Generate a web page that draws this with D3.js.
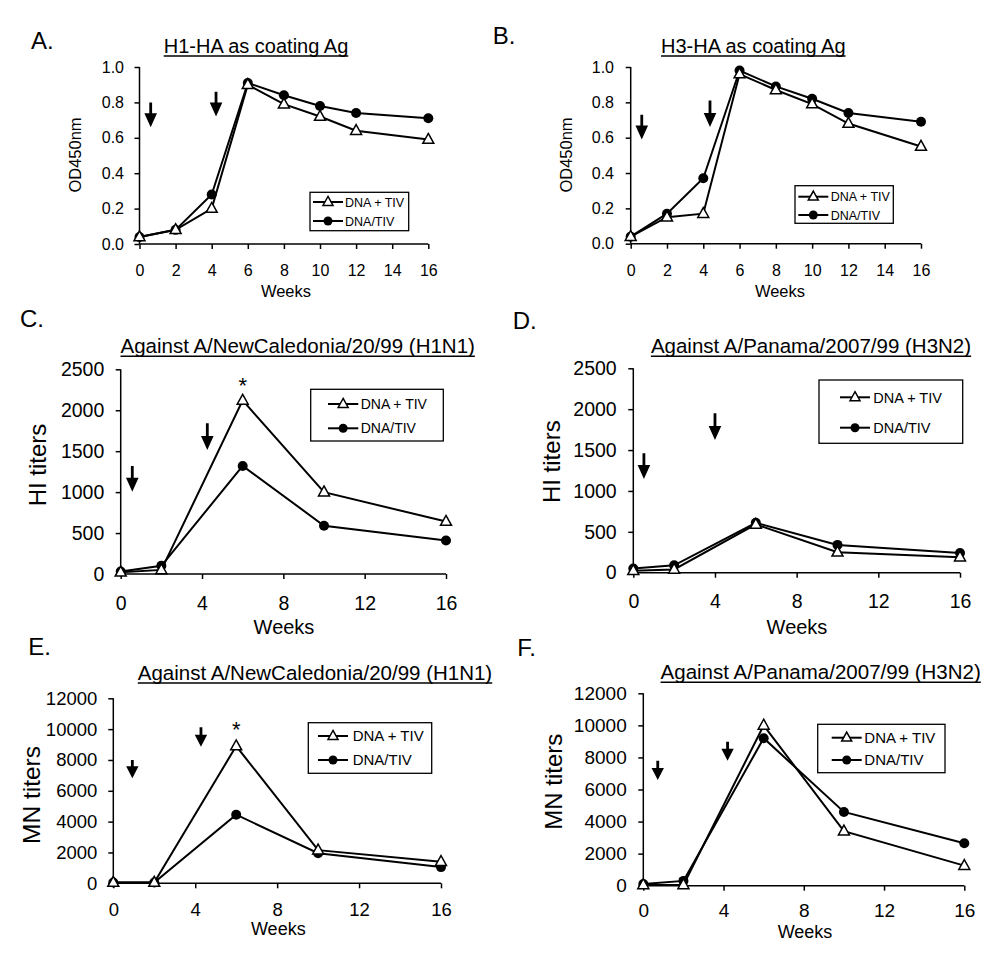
<!DOCTYPE html>
<html><head><meta charset="utf-8">
<script src="https://cdn.jsdelivr.net/npm/d3@7"></script>
<style>
body{margin:0;background:#fff}
svg{display:block}
text{font-family:"Liberation Sans",Arial,Helvetica,sans-serif;fill:#000}
</style>
</head><body>
<svg id="chart" width="1000" height="954"></svg>
<script>
// ---------- DATA ----------
const weeksElisa = [0, 2, 4, 6, 8, 10, 12, 16];
const weeksTiter = [0, 2, 6, 10, 16];
const seriesNames = ["DNA + TIV", "DNA/TIV"];

const odTicks = [0, 0.2, 0.4, 0.6, 0.8, 1.0];
const hiTicks = [0, 500, 1000, 1500, 2000, 2500];
const mnTicks = [0, 2000, 4000, 6000, 8000, 10000, 12000];
const weekTicksElisa = [0, 2, 4, 6, 8, 10, 12, 14, 16];
const weekTicksTiter = [0, 4, 8, 12, 16];

const panelLetters = ["A.", "B.", "C.", "D.", "E.", "F."];
const panelTitles = ["H1-HA as coating Ag", "H3-HA as coating Ag",
  "Against A/NewCaledonia/20/99 (H1N1)", "Against A/Panama/2007/99 (H3N2)",
  "Against A/NewCaledonia/20/99 (H1N1)", "Against A/Panama/2007/99 (H3N2)"];
const yAxisTitles = ["OD450nm", "OD450nm", "HI titers", "HI titers", "MN titers", "MN titers"];

// DNA + TIV (open triangles) and DNA/TIV (filled circles)
const A_combo = [0.04, 0.08, 0.20, 0.90, 0.79, 0.72, 0.64, 0.59];
const A_prime = [0.04, 0.08, 0.28, 0.91, 0.84, 0.78, 0.74, 0.71];
const B_combo = [0.04, 0.15, 0.17, 0.96, 0.87, 0.79, 0.68, 0.55];
const B_prime = [0.04, 0.17, 0.37, 0.98, 0.89, 0.82, 0.74, 0.69];
const C_combo = [20, 50, 2120, 1000, 640];
const C_prime = [30, 100, 1320, 590, 410];
const D_combo = [25, 40, 590, 250, 190];
const D_prime = [50, 90, 610, 340, 240];
const E_combo = [50, 50, 8900, 2150, 1400];
const E_prime = [50, 50, 4450, 1950, 1050];
const F_combo = [50, 50, 10000, 3400, 1250];
const F_prime = [100, 300, 9200, 4600, 2650];

// immunization arrows: [week, top value, tip value]
const A_arrows = [[0.62, 0.80, 0.66], [4.24, 0.86, 0.72]];
const B_arrows = [[0.61, 0.73, 0.59], [4.37, 0.81, 0.66]];
const C_arrows = [[0.57, 1320, 1005], [4.26, 1840, 1514]];
const D_arrows = [[0.52, 1460, 1146], [4.0, 1950, 1623]];
const E_arrows = [[0.93, 8000, 6810], [4.28, 10120, 8860]];
const F_arrows = [[0.72, 7800, 6590], [4.2, 8980, 7800]];

// significance marks: [week index]
const C_stars = [2];
const E_stars = [2];

// ---------- LAYOUT ----------
const panels = [
  {weeks: weeksElisa, combo: A_combo, prime: A_prime, arrows: A_arrows, stars: [], yMax: 1, yTicks: odTicks, xTicks: weekTicksElisa, fmt: d => d.toFixed(1),
   x0: 139.5, x1: 428.3, yT: 67, yB: 244, tickFs: 16, tickPad: 10.5, xLabY: 276,
   titleX: 256, titleY: 53, titleFs: 20, letterX: 31, letterY: 49,
   ylabX: 75, ylabY: 155, ylabFs: 16.5, wkX: 286, wkY: 297, wkFs: 16.5,
   leg: {x1: 310, x2: 408.7, y1: 192.3, y2: 230.7, e: [202, 221], l1: 313, l2: 343, tx: 345, fs: 12.5},
   head: [14, 6.3], starOff: 0},
  {weeks: weeksElisa, combo: B_combo, prime: B_prime, arrows: B_arrows, stars: [], yMax: 1, yTicks: odTicks, xTicks: weekTicksElisa, fmt: d => d.toFixed(1),
   x0: 630.7, x1: 921, yT: 67, yB: 243.7, tickFs: 16, tickPad: 11.7, xLabY: 276,
   titleX: 753.3, titleY: 53, titleFs: 20, letterX: 492.7, letterY: 44,
   ylabX: 566.7, ylabY: 155, ylabFs: 16.5, wkX: 780, wkY: 297, wkFs: 16.5,
   leg: {x1: 795, x2: 893.3, y1: 185.7, y2: 223.3, e: [196.7, 215], l1: 798.3, l2: 828.3, tx: 830.7, fs: 12.5},
   head: [14, 6.3], starOff: 0},
  {weeks: weeksTiter, combo: C_combo, prime: C_prime, arrows: C_arrows, stars: C_stars, yMax: 2500, yTicks: hiTicks, xTicks: weekTicksTiter, fmt: d3.format("d"),
   x0: 120.7, x1: 446, yT: 369.3, yB: 574, tickFs: 19.5, tickPad: 11.4, xLabY: 610,
   titleX: 297.7, titleY: 353.3, titleFs: 20.5, letterX: 20, letterY: 327,
   ylabX: 38, ylabY: 465, ylabFs: 24, wkX: 284, wkY: 634, wkFs: 20,
   leg: {x1: 310.7, x2: 443.3, y1: 389.3, y2: 441, e: [404, 428.3], l1: 328, l2: 358.3, tx: 360.7, fs: 14},
   head: [14, 6.3], starOff: 19},
  {weeks: weeksTiter, combo: D_combo, prime: D_prime, arrows: D_arrows, stars: [], yMax: 2500, yTicks: hiTicks, xTicks: weekTicksTiter, fmt: d3.format("d"),
   x0: 633.3, x1: 960, yT: 368.3, yB: 572.7, tickFs: 19.5, tickPad: 11.6, xLabY: 608.5,
   titleX: 811, titleY: 353.3, titleFs: 20.5, letterX: 512.7, letterY: 329.3,
   ylabX: 551.7, ylabY: 461.7, ylabFs: 24, wkX: 797, wkY: 634, wkFs: 20,
   leg: {x1: 819, x2: 962.7, y1: 380, y2: 443.3, e: [397.3, 427.7], l1: 840, l2: 870, tx: 873.3, fs: 14.5},
   head: [14, 6.3], starOff: 0},
  {weeks: weeksTiter, combo: E_combo, prime: E_prime, arrows: E_arrows, stars: E_stars, yMax: 12000, yTicks: mnTicks, xTicks: weekTicksTiter, fmt: d3.format("d"),
   x0: 113.3, x1: 441, yT: 698.3, yB: 883.3, tickFs: 18.5, tickPad: 11, xLabY: 916,
   titleX: 315, titleY: 680, titleFs: 20.5, letterX: 28.3, letterY: 655,
   ylabX: 31.7, ylabY: 795, ylabFs: 24.5, wkX: 278.3, wkY: 935, wkFs: 18,
   leg: {x1: 308.3, x2: 431.7, y1: 722.7, y2: 773.3, e: [736, 760], l1: 318, l2: 348, tx: 352.7, fs: 15},
   head: [12, 6.2], starOff: 21.5},
  {weeks: weeksTiter, combo: F_combo, prime: F_prime, arrows: F_arrows, stars: [], yMax: 12000, yTicks: mnTicks, xTicks: weekTicksTiter, fmt: d3.format("d"),
   x0: 643.3, x1: 964.3, yT: 693.3, yB: 885.7, tickFs: 19, tickPad: 11.6, xLabY: 917.5,
   titleX: 820.7, titleY: 679.3, titleFs: 20.5, letterX: 517.3, letterY: 656,
   ylabX: 553.3, ylabY: 781.7, ylabFs: 24, wkX: 805, wkY: 937.5, wkFs: 18,
   leg: {x1: 817.7, x2: 945, y1: 724.3, y2: 772.7, e: [737.7, 760], l1: 831.7, l2: 861.7, tx: 864.3, fs: 15},
   head: [12, 6.2], starOff: 0}
];

const svg = d3.select("#chart");
const triPath = (cx, cy, s) => {
  const h = s * 0.9;
  return `M${cx},${cy - h * 0.62}L${cx + s / 2},${cy + h * 0.38}L${cx - s / 2},${cy + h * 0.38}Z`;
};

panels.forEach((p, i) => {
  const g = svg.append("g");
  const x = d3.scaleLinear().domain([0, 16]).range([p.x0, p.x1]);
  const y = d3.scaleLinear().domain([0, p.yMax]).range([p.yB, p.yT]);

  // panel letter
  g.append("text").attr("x", p.letterX).attr("y", p.letterY)
    .attr("font-size", 24).text(panelLetters[i]);

  // title with underline
  const t = g.append("text").attr("x", p.titleX).attr("y", p.titleY)
    .attr("text-anchor", "middle").attr("font-size", p.titleFs).text(panelTitles[i]);
  const len = t.node().getComputedTextLength();
  g.append("line").attr("x1", p.titleX - len / 2).attr("x2", p.titleX + len / 2)
    .attr("y1", p.titleY + 3).attr("y2", p.titleY + 3)
    .attr("stroke", "#000").attr("stroke-width", 1.5);

  // axes
  const yAxis = d3.axisLeft(y).tickValues(p.yTicks).tickFormat(p.fmt).tickSize(5).tickPadding(p.tickPad);
  const ya = g.append("g").attr("transform", `translate(${p.x0},0)`).call(yAxis);
  const xAxis = d3.axisBottom(x).tickValues(p.xTicks).tickFormat(d3.format("d")).tickSize(5);
  const xa = g.append("g").attr("transform", `translate(0,${p.yB})`).call(xAxis);
  [ya, xa].forEach(a => {
    a.attr("font-size", p.tickFs).attr("font-family", "Liberation Sans, Arial, sans-serif");
    a.select(".domain").attr("stroke", "#000").attr("stroke-width", 1.5);
    a.selectAll(".tick line").attr("stroke", "#000").attr("stroke-width", 1.5);
    a.selectAll("text").attr("font-size", p.tickFs).attr("fill", "#000");
  });
  ya.select(".domain").attr("d", `M0,${p.yT}V${p.yB}`);
  xa.select(".domain").attr("d", `M${p.x0},0H${p.x1}`);
  xa.selectAll("text").attr("y", p.xLabY - p.yB).attr("dy", null);

  // axis titles
  g.append("text").attr("transform", `translate(${p.ylabX},${p.ylabY}) rotate(-90)`)
    .attr("text-anchor", "middle").attr("dy", "0.35em").attr("font-size", p.ylabFs).text(yAxisTitles[i]);
  g.append("text").attr("x", p.wkX).attr("y", p.wkY).attr("text-anchor", "middle")
    .attr("font-size", p.wkFs).text("Weeks");

  // arrows
  p.arrows.forEach(([wk, v1, v2]) => {
    const ax = x(wk), y1 = y(v1), y2 = y(v2);
    const [hl, hw] = p.head;
    g.append("path")
      .attr("d", `M${ax - 1.4},${y1}H${ax + 1.4}V${y2 - hl}H${ax + hw}L${ax},${y2}L${ax - hw},${y2 - hl}H${ax - 1.4}Z`)
      .attr("fill", "#000");
  });

  // lines
  const line = d3.line().x((d, j) => x(p.weeks[j])).y(d => y(d));
  g.append("path").datum(p.combo).attr("d", line).attr("fill", "none").attr("stroke", "#000").attr("stroke-width", 2);
  g.append("path").datum(p.prime).attr("d", line).attr("fill", "none").attr("stroke", "#000").attr("stroke-width", 2);

  // markers
  g.selectAll(".cir").data(p.prime).join("circle")
    .attr("cx", (d, j) => x(p.weeks[j])).attr("cy", d => y(d)).attr("r", 5).attr("fill", "#000");
  g.selectAll(".tri").data(p.combo).join("path")
    .attr("d", (d, j) => triPath(x(p.weeks[j]), y(d), 11))
    .attr("fill", "#fff").attr("stroke", "#000").attr("stroke-width", 1.5);

  // significance stars
  p.stars.forEach(j => {
    g.append("text").attr("x", x(p.weeks[j])).attr("y", y(p.combo[j]) - p.starOff + 12)
      .attr("text-anchor", "middle").attr("font-size", 22).text("*");
  });

  // legend
  const L = p.leg;
  g.append("rect").attr("x", L.x1).attr("y", L.y1).attr("width", L.x2 - L.x1).attr("height", L.y2 - L.y1)
    .attr("fill", "#fff").attr("stroke", "#000").attr("stroke-width", 1.3);
  seriesNames.forEach((name, k) => {
    const ey = L.e[k], mx = (L.l1 + L.l2) / 2;
    g.append("line").attr("x1", L.l1).attr("x2", L.l2).attr("y1", ey).attr("y2", ey)
      .attr("stroke", "#000").attr("stroke-width", 2);
    if (k === 0) {
      g.append("path").attr("d", triPath(mx, ey, 10)).attr("fill", "#fff").attr("stroke", "#000").attr("stroke-width", 1.5);
    } else {
      g.append("circle").attr("cx", mx).attr("cy", ey).attr("r", 4.5).attr("fill", "#000");
    }
    g.append("text").attr("x", L.tx).attr("y", ey).attr("dy", "0.36em")
      .attr("font-size", L.fs).text(name);
  });
});
</script>
</body></html>
